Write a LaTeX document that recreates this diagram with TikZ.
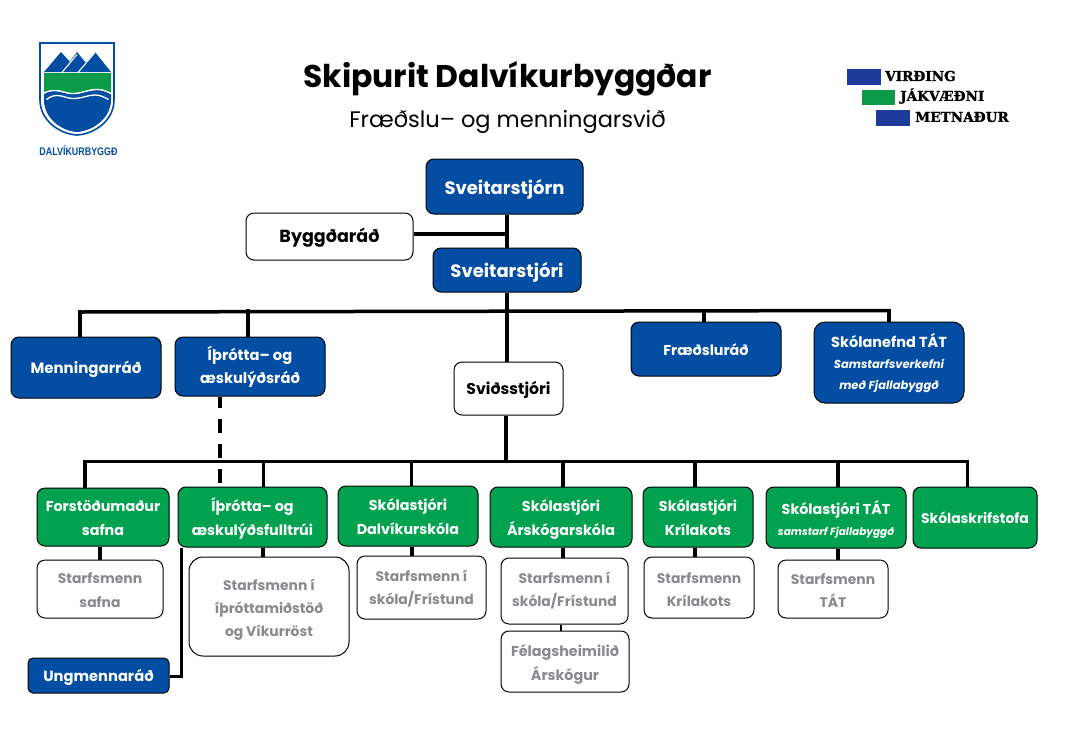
\documentclass[tikz,border=0pt]{standalone}
\usepackage{fontspec}
\usepackage{graphicx}
\setmainfont{Poppins}
\usetikzlibrary{positioning,calc}
\definecolor{dblue}{HTML}{034EA2}
\definecolor{dgreen}{HTML}{00A14F}
\definecolor{gtext}{HTML}{8A8A8E}
\definecolor{logogreen}{HTML}{0A9A48}
\definecolor{logoblue}{HTML}{1E3A9A}
\newfontfamily\slabfont{DejaVu Serif}[BoldFeatures={FakeBold=1.3}]
\newfontfamily\brandfont{Liberation Sans}
\tikzset{
 x=1pt,y=-1pt,
 rh/.code={\def\myrh{#1}},
 box/.style={draw=black,line width=1pt,rounded corners=8pt,align=center,inner sep=0pt,
   font=\bfseries\fontsize{14.3}{23.5}\selectfont,
   rh=46,
   execute at begin node={\rule{0pt}{\myrh pt}},
   execute at end node={\rule[-10pt]{0pt}{0pt}}},
 oneline/.style={rh=22},
 big/.style={rh=25,font=\bfseries\fontsize{18}{22}\selectfont},
 bluebox/.style={box,fill=dblue,text=white},
 greenbox/.style={box,fill=dgreen,text=white},
 whitebox/.style={box,fill=white,text=black},
 greybox/.style={box,fill=white,text=gtext},
 link/.style={draw=black,line width=3.5pt},
 thinlink/.style={draw=black,line width=2.6pt},
 midlink/.style={draw=black,line width=3pt},
 dashlink/.style={link,dash pattern=on 14pt off 11pt,dash phase=3pt},
 valuetext/.style={anchor=west,inner sep=0pt,font=\slabfont\bfseries\fontsize{13.6}{15}\selectfont},
}
\newcommand{\pbox}[6]{\node[#1,minimum width=#4pt-#2pt,minimum height=#5pt-#3pt] (#6) at ({(#2+#4)/2},{(#3+#5)/2})}
\begin{document}
\begin{tikzpicture}
\useasboundingbox (0,0) rectangle (1067,750);
\fill[white] (0,0) rectangle (1067,750);
% boxes
\pbox{bluebox,big}{426}{159}{583}{214}{a} {Sveitarstjórn};
\pbox{whitebox,oneline,font=\bfseries\fontsize{17.5}{22}\selectfont}{246}{213}{413}{260}{b} {Byggðaráð};
\pbox{bluebox,big}{433}{248}{581}{292}{c} {Sveitarstjóri};
\pbox{bluebox,oneline,font=\bfseries\fontsize{15}{22}\selectfont}{11}{337}{161}{398}{d} {Menningarráð};
\pbox{bluebox,rh=43,font=\bfseries\fontsize{14.7}{23}\selectfont}{175}{337}{325}{396}{e} {Íþrótta– og\\æskulýðsráð};
\pbox{whitebox,oneline,font=\bfseries\fontsize{15.7}{22}\selectfont}{454}{362}{563}{415}{f} {Sviðsstjóri};
\pbox{bluebox,oneline}{631}{322}{781}{376}{g} {Fræðsluráð};
\pbox{bluebox,rh=63,rounded corners=11pt,font=\bfseries\fontsize{14.5}{21}\selectfont}{814}{322}{964}{403}{h} {Skólanefnd TÁT\\{\fontsize{11.5}{21}\selectfont\itshape Samstarfsverkefni}\\{\fontsize{11.5}{21}\selectfont\itshape með Fjallabyggð}};
\pbox{greenbox}{37}{488}{169}{546}{i} {Forstöðumaður\\safna};
\pbox{greenbox}{178}{487}{327}{547}{j} {Íþrótta– og\\æskulýðsfulltrúi};
\pbox{greenbox}{338}{486}{478}{546}{k} {Skólastjóri\\Dalvíkurskóla};
\pbox{greenbox}{490}{487}{632}{547}{l} {Skólastjóri\\Árskógarskóla};
\pbox{greenbox}{643}{487}{753}{547}{m} {Skólastjóri\\Krílakots};
\pbox{greenbox,rh=45,font=\bfseries\fontsize{14.3}{21}\selectfont}{766}{487}{906}{548}{n} {Skólastjóri TÁT\\{\fontsize{10.5}{21}\selectfont\itshape samstarf Fjallabyggð}};
\pbox{greenbox,oneline,font=\bfseries\fontsize{13.9}{22}\selectfont}{913}{487}{1037}{548}{o} {Skólaskrifstofa};
\pbox{greybox,font=\bfseries\fontsize{13.9}{23.5}\selectfont}{37}{560}{163}{618}{p} {Starfsmenn\\safna};
\pbox{greybox,rh=69,rounded corners=14pt,font=\bfseries\fontsize{13.9}{23}\selectfont}{189}{557}{349}{656}{q} {Starfsmenn í\\íþróttamiðstöð\\og Víkurröst};
\pbox{greybox,rh=43,font=\bfseries\fontsize{13.9}{23}\selectfont}{357}{556}{486}{619}{r} {Starfsmenn í\\skóla/Frístund};
\pbox{greybox,rh=40,font=\bfseries\fontsize{13.9}{23}\selectfont}{501}{558}{628}{624}{s} {Starfsmenn í\\skóla/Frístund};
\pbox{greybox,rh=47}{501}{631}{629}{692}{t} {Félagsheimilið\\Árskógur};
\pbox{greybox,rh=47,font=\bfseries\fontsize{13.9}{23}\selectfont}{644}{557}{754}{618}{u} {Starfsmenn\\Krílakots};
\pbox{greybox,font=\bfseries\fontsize{13.9}{23}\selectfont}{778}{560}{888}{618}{v} {Starfsmenn\\TÁT};
\pbox{bluebox,oneline,rounded corners=5pt,font=\bfseries\fontsize{14.7}{22}\selectfont}{28}{658}{169}{693}{w} {Ungmennaráð};
% junctions on the two bars and branch columns
\coordinate (tr1) at (80,312); \coordinate (tr2) at (890,310.5);
\coordinate (bl1) at (85,461.5); \coordinate (bl2) at (968,461.5);
\coordinate (spine) at (507,234);
\coordinate (jf) at (506,461);
\coordinate (jd) at (80,310);
\coordinate (je) at (248,309);
\coordinate (jg) at (704,309);
\coordinate (jh) at (889,309);
\coordinate (ji) at (85,460);
\coordinate (jj) at (263.5,460);
\coordinate (jk) at (411.5,460);
\coordinate (jl) at (563,460);
\coordinate (jm) at (695,460);
\coordinate (jn) at (838,460);
\coordinate (jo) at (967.5,460);
\coordinate (jdash) at (220,396);
\coordinate (jp) at (100,546);
\coordinate (jq) at (263,547);
\coordinate (jr) at (412,546);
\coordinate (jt) at (561,624);
\coordinate (jw) at (181,676);
% links
\draw[link] (spine |- a.south) -- (spine |- c.north);
\draw[link] (b.east |- spine) -- (spine);
\draw[link] (spine |- c.south) -- (spine |- f.north);
\draw[link] (tr1) -- (tr2);
\draw[link] (jd) -- (jd |- d.north);
\draw[link] (je) -- (je |- e.north);
\draw[link] (jg) -- (jg |- g.north);
\draw[link] (jh) -- (jh |- h.north);
\draw[link] (jf |- f.south) -- (jf);
\draw[link] (bl1) -- (bl2);
\draw[link] (ji) -- (ji |- i.north);
\draw[link] (jj) -- (jj |- j.north);
\draw[link] (jk) -- (jk |- k.north);
\draw[link] (jl) -- (jl |- l.north);
\draw[link] (jm) -- (jm |- m.north);
\draw[link] (jn) -- (jn |- n.north);
\draw[thinlink] (jo) -- (jo |- o.north);
\draw[dashlink] (jdash |- e.south) -- (jdash |- j.north);
\draw[link] (jp |- i.south) -- (jp |- p.north);
\draw[link] (jq |- j.south) -- (jq |- q.north);
\draw[link] (jr |- k.south) -- (jr |- r.north);
\draw[link] (jl |- l.south) -- (jl |- s.north);
\draw[thinlink] (jt |- s.south) -- (jt |- t.north);
\draw[link] (jm |- m.south) -- (jm |- u.north);
\draw[link] (jn |- n.south) -- (jn |- v.north);
\draw[midlink] (w.east |- jw) -- (jw) -- (jw |- j.south);
% title
\node[inner sep=0pt,font=\bfseries\fontsize{31.4}{36}\selectfont] (title) at (507.5,79) {Skipurit Dalvíkurbyggðar};
\node[inner sep=0pt,font=\fontsize{22.5}{26}\selectfont] (sub) at (507.5,122) {Fræðslu– og menningarsvið};
% values
\fill[logoblue] (847,69) rectangle (881,85);
\fill[logogreen] (862,90) rectangle (895,105);
\fill[logoblue] (876,110) rectangle (910,126);
\node[valuetext] (v1) at (885,76) {VIRÐING};
\node[valuetext] (v2) at (900,96) {JÁKVÆÐNI};
\node[valuetext] (v3) at (915,117) {METNAÐUR};
% logo
\draw[dblue,line width=1.6pt,fill=white] (40,43) -- (114,43) -- (114,100) .. controls (114,120) and (95,134) .. (77,135) .. controls (59,134) and (40,120) .. (40,100) -- cycle;
\fill[dblue] (44,72) -- (61,52) -- (71,63) -- (62,72) -- cycle;
\fill[dblue] (62,72) -- (77,52) -- (86,63) -- (78,72) -- cycle;
\fill[dblue] (78,72) -- (95,52) -- (111,72) -- cycle;
\draw[white,line width=1.1pt] (61.5,73) -- (77,54.5);
\draw[white,line width=1.1pt] (77.5,73) -- (95,52.5);
\fill[logogreen] (44,73) -- (111,73) -- (111,93) .. controls (105,90) and (102,89) .. (97,89) .. controls (88,89) and (82,93) .. (73,93) .. controls (65,93) and (62,90) .. (55,90) .. controls (50,90) and (47,91) .. (44,93) -- cycle;
\fill[dblue] (44,94) .. controls (47,92) and (50,91) .. (55,91) .. controls (62,91) and (65,94) .. (73,94) .. controls (82,94) and (88,90) .. (97,90) .. controls (102,90) and (105,91) .. (111,94) -- (111,100) .. controls (111,118) and (93,131) .. (77,132) .. controls (61,131) and (44,118) .. (44,100) -- cycle;
\draw[white,line width=1.3pt] (43,93.5) .. controls (47,91.5) and (50,90.5) .. (55,90.5) .. controls (62,90.5) and (65,93.5) .. (73,93.5) .. controls (82,93.5) and (88,89.5) .. (97,89.5) .. controls (102,89.5) and (105,90.5) .. (112,94);
\draw[white,line width=1.3pt] (46.5,99.5) .. controls (50,97) and (53,95.5) .. (57,95.5) .. controls (63,95.5) and (67,98.5) .. (73,98.5) .. controls (82,98.5) and (88,95) .. (95,95) .. controls (100,95) and (104,97) .. (108.5,99.5);
\node[inner sep=0pt,text=dblue,font=\brandfont\bfseries\fontsize{11}{12}\selectfont] (brand) at (78.5,151) {\scalebox{0.81}[1]{DALVÍKURBYGGÐ}};
\end{tikzpicture}
\end{document}
